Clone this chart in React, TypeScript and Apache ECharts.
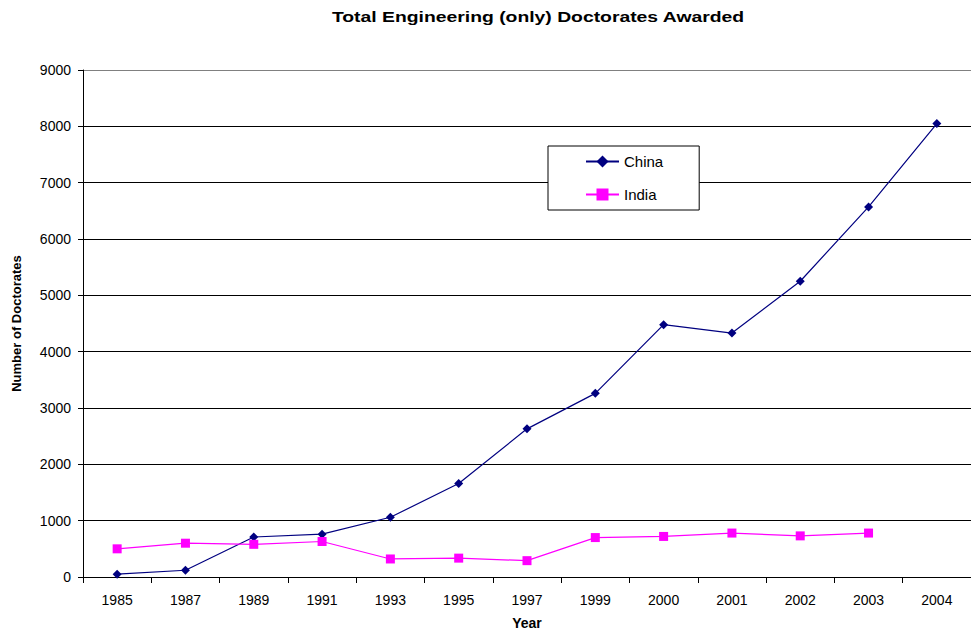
import React, { useEffect, useRef } from "react";
import * as echarts from "echarts";

const titleText = "Total Engineering (only) Doctorates Awarded";
const years = ["1985", "1987", "1989", "1991", "1993", "1995", "1997", "1999", "2000", "2001", "2002", "2003", "2004"];
const china = [50, 120, 710, 760, 1060, 1660, 2630, 3260, 4480, 4330, 5250, 6570, 8050];
const india: (number | null)[] = [500, 600, 580, 630, 320, 335, 290, 700, 720, 780, 730, 780, null];
const yTicks = { min: 0, max: 9000, interval: 1000 };

export default function App() {
  const ref = useRef<HTMLDivElement>(null);
  useEffect(() => {
    if (!ref.current) return;
    const chart = echarts.init(ref.current, null, { renderer: "svg" });
    const font = "'Liberation Sans', Arial, sans-serif";
    chart.setOption({
      animation: false,
      backgroundColor: "#fff",
      textStyle: { fontFamily: font },
      graphic: [
        {
          type: "text",
          x: 538,
          y: 17,
          scaleX: 1.29,
          style: {
            text: titleText,
            fontFamily: font,
            fontSize: 15,
            fontWeight: "bold",
            fill: "#000",
            align: "center",
            verticalAlign: "middle",
          },
        },
      ],
      legend: {
        orient: "vertical",
        left: 548,
        top: 146,
        padding: [8, 36, 8, 37],
        itemGap: 18,
        itemWidth: 33,
        itemHeight: 15,
        borderColor: "#000",
        borderWidth: 1,
        backgroundColor: "#fff",
        textStyle: { fontFamily: font, fontSize: 15, color: "#000" },
        data: ["China", "India"],
      },
      grid: { left: 83, right: -5, top: 70, bottom: 52, containLabel: false },
      xAxis: {
        type: "category",
        data: years,
        boundaryGap: true,
        name: "Year",
        nameLocation: "middle",
        nameGap: 39,
        nameTextStyle: { fontFamily: font, fontSize: 14, fontWeight: "bold", color: "#000" },
        axisLine: { lineStyle: { color: "#000", width: 1 } },
        axisTick: { show: true, length: 6, lineStyle: { color: "#000" } },
        axisLabel: { margin: 16, fontSize: 14, color: "#000", fontFamily: font, interval: 0 },
        splitLine: { show: false },
      },
      yAxis: {
        type: "value",
        min: yTicks.min,
        max: yTicks.max,
        interval: yTicks.interval,
        name: "Number of Doctorates",
        nameLocation: "middle",
        nameGap: 60,
        nameRotate: 90,
        nameTextStyle: { fontFamily: font, fontSize: 13, fontWeight: "bold", color: "#000" },
        axisLine: { show: true, lineStyle: { color: "#000", width: 1 } },
        axisTick: { show: true, length: 5, lineStyle: { color: "#000" } },
        axisLabel: {
          margin: 12,
          fontSize: 14,
          color: "#000",
          fontFamily: font,
          formatter: (v: number) => String(v),
        },
        splitLine: {
          show: true,
          lineStyle: {
            color: ["#000", "#000", "#000", "#000", "#000", "#000", "#000", "#000", "#000", "#808080"],
            width: 1,
          },
        },
      },
      series: [
        {
          name: "China",
          type: "line",
          data: china,
          symbol: "diamond",
          symbolSize: 9,
          color: "#000080",
          lineStyle: { color: "#000080", width: 1.2 },
          itemStyle: { color: "#000080" },
        },
        {
          name: "India",
          type: "line",
          data: india,
          symbol: "rect",
          symbolSize: 9,
          color: "#FF00FF",
          lineStyle: { color: "#FF00FF", width: 1.2 },
          itemStyle: { color: "#FF00FF" },
        },
      ],
    });
    return () => chart.dispose();
  }, []);
  return (
    <div
      ref={ref}
      style={{ position: "fixed", left: 0, top: 0, width: 971, height: 635, overflow: "hidden" }}
    />
  );
}
